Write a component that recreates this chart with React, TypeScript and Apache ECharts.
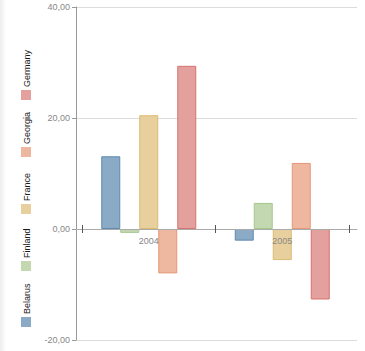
import React, { useEffect, useRef } from "react";
import * as echarts from "echarts";

const categories = ["2004", "2005"];
const seriesNames = ["Belarus", "Finland", "France", "Georgia", "Germany"];
const belarus = [13.1, -2.1];
const finland = [-0.7, 4.7];
const france = [20.5, -5.6];
const georgia = [-8.0, 11.9];
const germany = [29.4, -12.7];
const seriesValues = [belarus, finland, france, georgia, germany];
const fills = ["#8aaac5", "#c3d8b0", "#e8d09e", "#edb7a0", "#e4a09d"];
const borders = ["#5d8ab0", "#a6c68e", "#dcbb70", "#e59679", "#d4736f"];
const yTicks = [-20, 0, 20, 40];
const Y_MIN = -20;
const Y_MAX = 40;

const FONT = "Liberation Sans, Arial, sans-serif";

export default function App() {
  const ref = useRef<HTMLDivElement>(null);
  useEffect(() => {
    const chart = echarts.init(ref.current!, null, { renderer: "svg" });
    const H = 351;
    const gridTop = 7;
    const gridBottom = 11;
    const plotH = H - gridTop - gridBottom;
    const zeroFromTop = (plotH * Y_MAX) / (Y_MAX - Y_MIN);
    const zeroFromBottom = plotH - zeroFromTop;

    const legendGraphics: any[] = [];
    const legendSquareTops = [317, 261, 204, 147, 90];
    seriesNames.forEach((name, i) => {
      const top = legendSquareTops[i];
      legendGraphics.push({
        type: "rect",
        shape: { x: 21, y: top, width: 10, height: 10 },
        style: { fill: fills[i] },
      });
      legendGraphics.push({
        type: "text",
        x: 27,
        y: top - 3,
        rotation: Math.PI / 2,
        style: {
          text: name,
          fill: "#1a1a1a",
          font: `9px ${FONT}`,
          textAlign: "left",
          textVerticalAlign: "middle",
        },
      });
    });
    const option: any = {
      animation: false,
      graphic: [
        {
          type: "rect",
          shape: { x: 0, y: 0, width: 6, height: H },
          style: {
            fill: new echarts.graphic.LinearGradient(0, 0, 1, 0, [
              { offset: 0, color: "#ececec" },
              { offset: 1, color: "#ffffff" },
            ]),
          },
          silent: true,
        },
        ...legendGraphics,
      ],
      grid: [
        { left: 82, right: 16, top: gridTop, bottom: gridBottom, outerBoundsMode: "none", containLabel: false },
        { left: 76, right: 8, top: gridTop, bottom: gridBottom, outerBoundsMode: "none", containLabel: false },
      ],
      xAxis: [
        {
          type: "category",
          gridIndex: 0,
          position: "bottom",
          offset: -zeroFromBottom,
          z: 5,
          data: categories,
          axisLine: { show: false, onZero: false },
          axisTick: { show: true, length: 4, lineStyle: { color: "#555" } },
          axisLabel: {
            color: "#888",
            fontSize: 9,
            fontFamily: FONT,
            margin: 7,
            interval: 0,
            hideOverlap: false,
            showMinLabel: true,
            showMaxLabel: true,
          },
        },
        {
          type: "category",
          gridIndex: 0,
          position: "top",
          offset: -zeroFromTop,
          z: 5,
          data: categories,
          axisLine: { show: false, onZero: false },
          axisTick: { show: true, length: 4, lineStyle: { color: "#555" } },
          axisLabel: { show: false },
        },
        {
          type: "value",
          gridIndex: 1,
          min: 0,
          max: 1,
          z: 4,
          axisLine: { show: true, onZero: true, lineStyle: { color: "#aaa" } },
          axisTick: { show: false },
          axisLabel: { show: false },
          splitLine: { show: false },
        },
      ],
      yAxis: [
        {
          type: "value",
          gridIndex: 0,
          min: Y_MIN,
          max: Y_MAX,
          interval: 20,
          axisLine: { show: false },
          axisTick: { show: false },
          axisLabel: { show: false },
          splitLine: { show: false },
        },
        {
          type: "value",
          gridIndex: 1,
          min: Y_MIN,
          max: Y_MAX,
          interval: 20,
          axisLine: { show: true, lineStyle: { color: "#999" } },
          axisTick: { show: true, length: 4, lineStyle: { color: "#999" } },
          axisLabel: {
            color: "#888",
            fontSize: 9,
            fontFamily: FONT,
            margin: 6,
            formatter: (v: number) =>
              yTicks.includes(v) ? v.toFixed(2).replace(".", ",") : "",
          },
          splitLine: { show: true, lineStyle: { color: "#dcdcdc" } },
        },
      ],
      series: seriesNames.map((name, i) => ({
        type: "bar",
        name,
        xAxisIndex: 0,
        yAxisIndex: 0,
        data: seriesValues[i],
        barWidth: 19,
        barGap: "0%",
        itemStyle: {
          color: fills[i],
          borderColor: borders[i],
          borderWidth: 1,
        },
      })),
    };
    chart.setOption(option);
    return () => chart.dispose();
  }, []);
  return (
    <div
      ref={ref}
      style={{ position: "fixed", left: 0, top: 0, width: 365, height: 351, background: "#fff" }}
    />
  );
}
